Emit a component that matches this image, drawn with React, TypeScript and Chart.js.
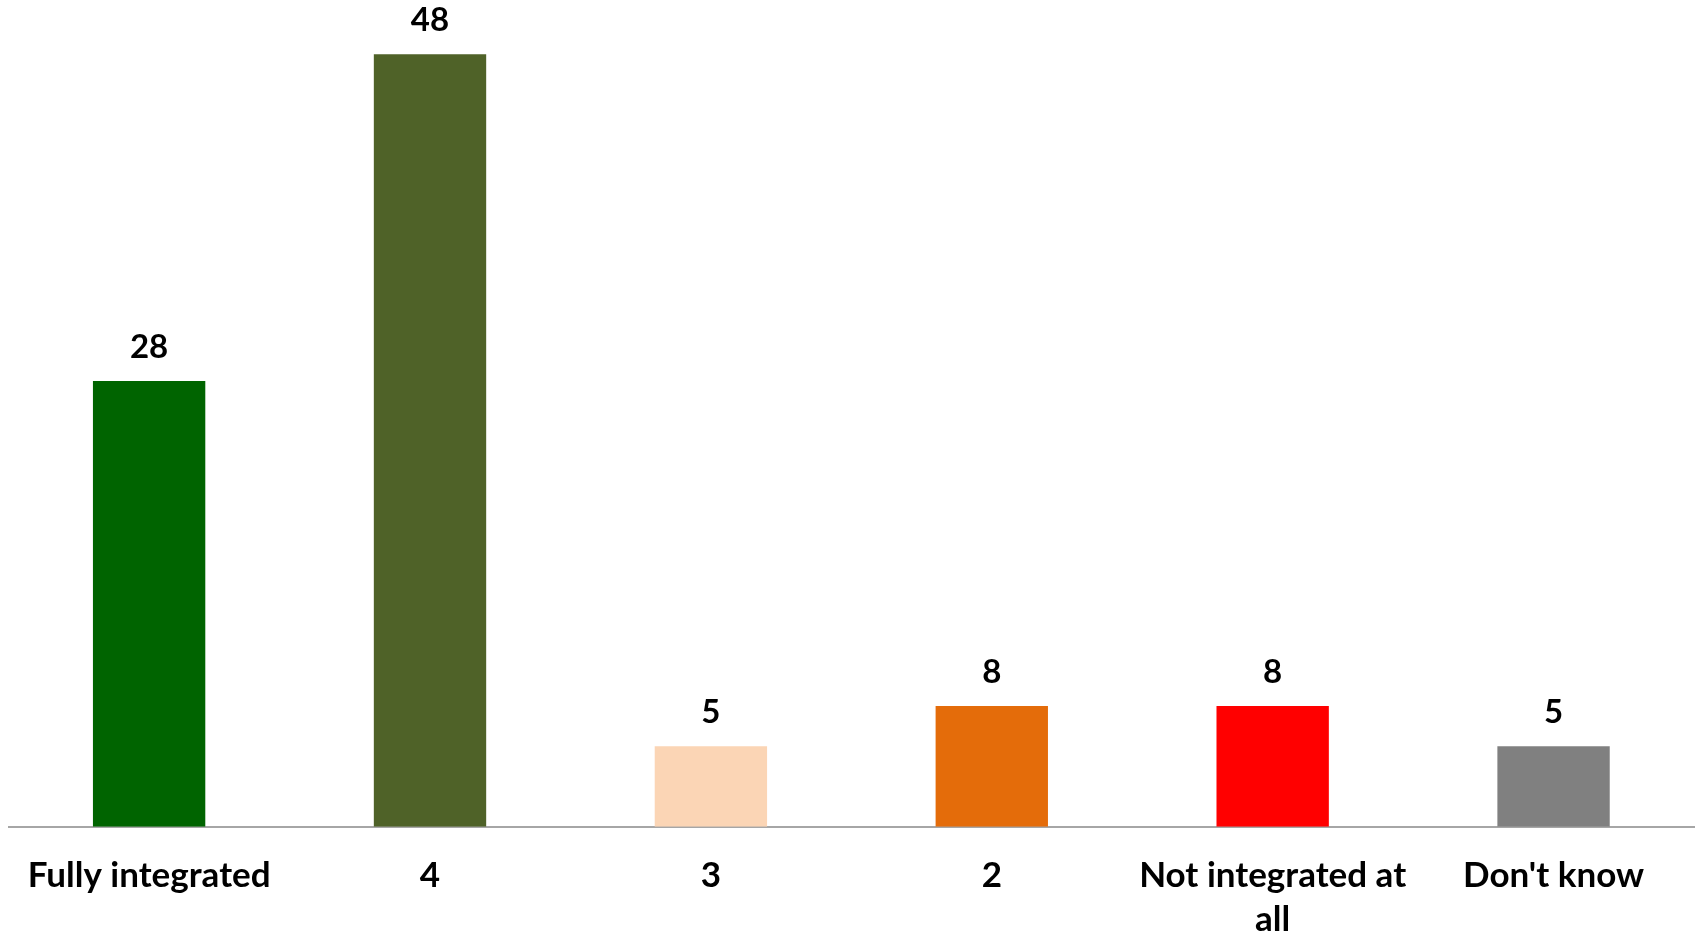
import React, { useEffect, useRef } from "react";
import { Chart, registerables } from "chart.js";

Chart.register(...registerables);

const categories: (string | string[])[] = [
  "Fully integrated",
  "4",
  "3",
  "2",
  ["Not integrated at", "all"],
  "Don't know",
];
const values: number[] = [27.7, 48.0, 5.0, 7.5, 7.5, 5.0];
const barColors: string[] = ["#006400", "#4F6228", "#FBD5B5", "#E46C0A", "#FF0000", "#808080"];

const FONT = "Lato";

const valueLabels = {
  id: "valueLabels",
  afterDatasetsDraw(chart: any) {
    const ctx = chart.ctx;
    const meta = chart.getDatasetMeta(0);
    ctx.save();
    ctx.fillStyle = "#000";
    ctx.font = `bold 33px ${FONT}`;
    ctx.textAlign = "center";
    ctx.textBaseline = "middle";
    meta.data.forEach((bar: any, i: number) => {
      ctx.fillText(String(Math.round(values[i])), bar.x, bar.y - 33.5);
    });
    ctx.restore();
  },
};

export default function App() {
  const ref = useRef<HTMLCanvasElement | null>(null);
  useEffect(() => {
    if (!ref.current) return;
    const chart = new Chart(ref.current, {
      type: "bar",
      data: {
        labels: categories,
        datasets: [
          {
            data: values,
            backgroundColor: barColors,
            borderWidth: 0,
            categoryPercentage: 1,
            barPercentage: 0.4,
          },
        ],
      },
      options: {
        animation: false,
        responsive: false,
        maintainAspectRatio: false,
        layout: { padding: { top: 22, left: 8, right: 4, bottom: 0 } },
        plugins: { legend: { display: false }, tooltip: { enabled: false } },
        scales: {
          x: {
            grid: { display: false, drawTicks: false },
            border: { display: true, color: "#A6A6A6", width: 2 },
            ticks: {
              color: "#000",
              padding: 27,
              maxRotation: 0,
              autoSkip: false,
              font: { family: FONT, size: 35, weight: "bold", lineHeight: 1.26 },
            },
          },
          y: {
            display: false,
            min: 0,
            max: 50,
          },
        },
      },
      plugins: [valueLabels],
    });
    return () => chart.destroy();
  }, []);
  return (
    <div style={{ position: "absolute", left: 0, top: 0, width: 1698, height: 969, background: "#fff" }}>
      <canvas ref={ref} width={1698} height={969} style={{ display: "block" }} />
    </div>
  );
}
